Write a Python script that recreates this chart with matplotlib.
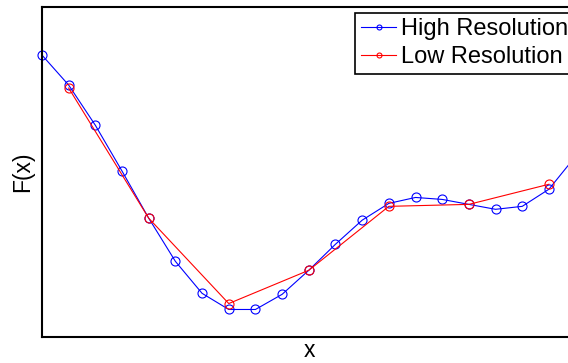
import numpy as np
import matplotlib.pyplot as plt

plt.rcParams['font.family'] = ['Liberation Sans', 'DejaVu Sans']

# high resolution samples (index positions along x)
x_high = np.arange(21)
f_high = [0.854, 0.763, 0.641, 0.502, 0.359, 0.228, 0.131, 0.082, 0.082, 0.128,
          0.201, 0.280, 0.353, 0.404, 0.422, 0.416, 0.401, 0.386, 0.395, 0.447,
          0.547]

# low resolution samples (every third point)
x_low = [1, 4, 7, 10, 13, 16, 19]
f_low = [0.754, 0.359, 0.100, 0.201, 0.395, 0.401, 0.462]

W, H = 568, 363
fig = plt.figure(figsize=(W/100, H/100), dpi=100)

left, right_px = 42, 42 + 21*26.68
top, bottom = 7, 336.5
ax = fig.add_axes([left/W, (H - bottom)/H, (right_px - left)/W, (bottom - top)/H])

ax.plot(x_high, f_high, color="blue", marker="o", markersize=6.5,
        markerfacecolor="none", markeredgewidth=0.8, linewidth=0.8,
        label="High Resolution", clip_on=False)
ax.plot(x_low, f_low, color="red", marker="o", markersize=6.5,
        markerfacecolor="none", markeredgewidth=0.8, linewidth=0.8,
        label="Low Resolution", clip_on=False)

ax.set_xlim(0, 21)
ax.set_ylim(0, 1)
ax.set_xticks([])
ax.set_yticks([])
for s in ax.spines.values():
    s.set_linewidth(1.5)

ax.set_ylabel("F(x)", fontsize=16.5, labelpad=6)
# x label sits at the centre of the full (wider) original axes
fig.text(309/W, 1 - 357/H, "x", fontsize=16.5, ha="center", va="baseline")

leg = fig.legend(loc="upper left", bbox_to_anchor=(355/W, 1 - 12.5/H),
                 fontsize=17, numpoints=1, markerscale=0.55,
                 handlelength=1.5, handletextpad=0.2, labelspacing=0.25,
                 borderpad=0.25, borderaxespad=0, fancybox=False,
                 framealpha=1, edgecolor="black")
leg.get_frame().set_linewidth(1.2)

fig.savefig("out.png", dpi=100)
